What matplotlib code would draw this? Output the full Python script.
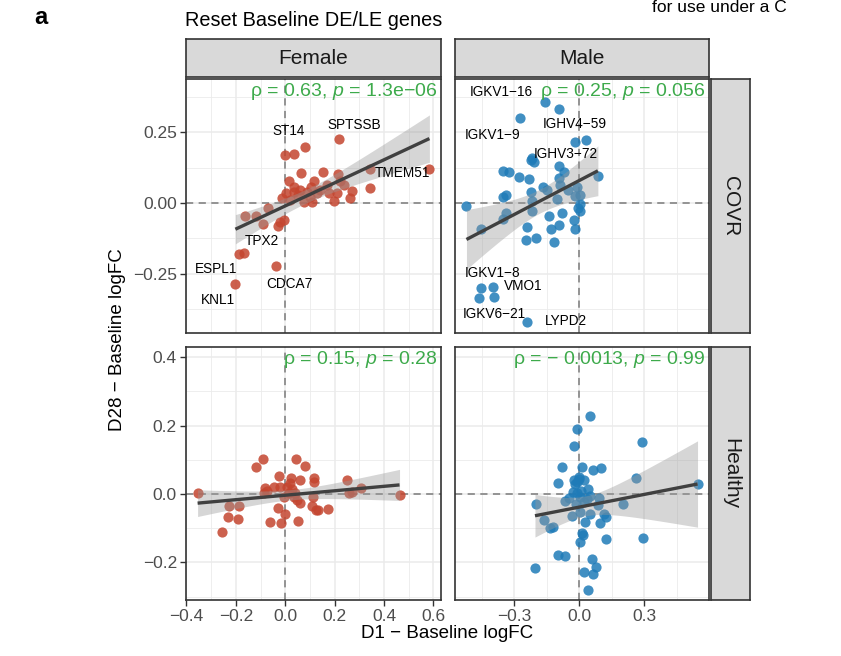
import numpy as np
import matplotlib
matplotlib.use("Agg")
import matplotlib.pyplot as plt

plt.rcParams['font.family'] = ['Liberation Sans', 'DejaVu Sans']
plt.rcParams['mathtext.fontset'] = 'custom'
plt.rcParams['mathtext.rm'] = 'Liberation Sans'
plt.rcParams['mathtext.it'] = 'Liberation Sans:italic'

# D1 - baseline (x) and D28 - baseline (y) logFC per gene
female_covr_x = [-0.202, -0.189, -0.166, -0.038, -0.165, -0.117, -0.090, -0.070, -0.030, -0.023,
                 -0.007, 0.001, 0.034, 0.081, 0.216, 0.344, 0.584, 0.017, 0.063, 0.151,
                 0.213, 0.220, 0.036, -0.013, 0.004, 0.034, 0.051, 0.075, 0.088, 0.104,
                 0.115, 0.108, 0.128, 0.169, 0.176, 0.196, 0.209, 0.239, 0.270, 0.263,
                 0.344, 0.060, 0.100, 0.140, 0.020]
female_covr_y = [-0.285, -0.178, -0.176, -0.223, -0.046, -0.046, -0.075, -0.019, -0.080, -0.066,
                 -0.060, 0.170, 0.174, 0.197, 0.226, 0.119, 0.119, 0.078, 0.106, 0.109,
                 0.102, 0.078, 0.058, 0.017, 0.034, 0.040, 0.028, 0.005, 0.040, 0.058,
                 0.078, 0.005, 0.034, 0.064, 0.034, 0.007, 0.034, 0.064, 0.043, 0.019,
                 0.052, 0.045, 0.020, 0.045, 0.010]

male_covr_x = [-0.159, -0.092, -0.274, -0.019, 0.031, -0.220, -0.210, -0.225, -0.092, -0.071,
               -0.354, -0.327, -0.278, -0.232, -0.095, -0.166, -0.148, -0.225, -0.354, -0.339,
               -0.087, -0.054, -0.010, 0.005, -0.019, 0.086, -0.105, -0.220, -0.522, 0.005,
               -0.006, 0.002, -0.220, -0.339, -0.354, -0.078, -0.141, -0.024, -0.454, -0.243,
               -0.132, -0.096, -0.019, -0.247, -0.201, -0.115, -0.454, -0.398, -0.464, -0.393,
               -0.240]
male_covr_y = [0.356, 0.332, 0.300, 0.214, 0.223, 0.158, 0.144, 0.152, 0.132, 0.108,
               0.113, 0.109, 0.093, 0.085, 0.087, 0.058, 0.046, 0.040, 0.022, 0.030,
               0.064, 0.046, 0.058, 0.030, 0.024, 0.096, 0.014, 0.007, -0.009, -0.005,
               -0.019, -0.028, -0.028, -0.035, -0.057, -0.035, -0.046, -0.060, -0.090, -0.084,
               -0.092, -0.078, -0.092, -0.129, -0.123, -0.137, -0.300, -0.296, -0.336, -0.330,
               -0.421]

female_healthy_x = [-0.355, -0.256, -0.230, -0.193, -0.226, -0.189, -0.119, -0.092, -0.081, -0.088,
                    -0.074, -0.061, -0.030, -0.016, 0.000, -0.027, -0.047, -0.020, 0.007, 0.020,
                    0.027, 0.014, -0.007, 0.034, 0.047, 0.061, 0.040, 0.023, 0.061, 0.043,
                    0.081, 0.115, 0.115, 0.111, 0.108, 0.124, 0.131, 0.175, 0.050, 0.252,
                    0.257, 0.270, 0.308, 0.463]
female_healthy_y = [0.002, -0.112, -0.068, -0.073, -0.035, -0.034, 0.078, 0.102, 0.018, 0.004,
                    0.009, -0.081, -0.040, -0.086, -0.057, 0.053, 0.021, 0.021, 0.021, 0.031,
                    0.016, 0.003, -0.008, -0.008, -0.018, -0.025, 0.003, 0.048, 0.040, 0.102,
                    0.082, 0.048, 0.034, -0.008, -0.034, -0.047, -0.047, -0.043, -0.078, 0.040,
                    0.002, 0.006, 0.018, -0.003]

male_healthy_x = [0.051, -0.010, -0.024, 0.292, -0.080, 0.014, 0.065, 0.102, -0.100, -0.023,
                  -0.003, 0.020, -0.019, 0.038, 0.264, 0.547, -0.198, -0.068, -0.049, -0.010,
                  0.005, -0.014, 0.020, 0.035, 0.091, 0.088, 0.203, -0.164, -0.136, -0.120,
                  -0.034, 0.005, 0.027, 0.051, 0.094, 0.112, 0.124, 0.012, 0.017, 0.005,
                  0.124, 0.295, -0.100, -0.064, 0.058, 0.078, -0.205, 0.020, 0.062, 0.042,
                  0.000, -0.010, 0.010, -0.030, 0.050]
male_healthy_y = [0.229, 0.190, 0.139, 0.153, 0.078, 0.080, 0.070, 0.075, 0.031, 0.041,
                  0.045, 0.041, 0.029, 0.015, 0.048, 0.029, -0.029, -0.019, -0.013, 0.002,
                  -0.008, -0.028, -0.023, -0.016, -0.011, -0.032, -0.029, -0.076, -0.099, -0.096,
                  -0.064, -0.052, -0.081, -0.057, -0.084, -0.059, -0.066, -0.115, -0.120, -0.141,
                  -0.132, -0.128, -0.179, -0.182, -0.190, -0.213, -0.215, -0.229, -0.235, -0.281,
                  0.050, 0.035, 0.010, 0.005, -0.005]

# labelled genes (COVR row)
female_genes = ["ST14", "SPTSSB", "TMEM51", "TPX2", "ESPL1", "CDCA7", "KNL1"]
female_gene_x = [0.014, 0.279, 0.474, -0.093, -0.281, 0.018, -0.272]
female_gene_y = [0.253, 0.276, 0.107, -0.134, -0.233, -0.287, -0.340]
male_genes = ["IGKV1\u221216", "IGHV4\u221259", "IGKV1\u22129", "IGHV3\u221272",
              "IGKV1\u22128", "VMO1", "IGKV6\u221221", "LYPD2"]
male_gene_x = [-0.362, -0.023, -0.400, -0.064, -0.400, -0.258, -0.393, -0.060]
male_gene_y = [0.392, 0.277, 0.239, 0.173, -0.248, -0.291, -0.392, -0.416]

cor_labels = [["ρ = 0.63, $p$ = 1.3e\u221206", "ρ = 0.25, $p$ = 0.056"],
              ["ρ = 0.15, $p$ = 0.28", "ρ = \u2212 0.0013, $p$ = 0.99"]]

sex_labels = ["Female", "Male"]
group_labels = ["COVR", "Healthy"]
sex_colors = ["#C4452F", "#1F7BB8"]

x_ticks = [[-0.4, -0.2, 0.0, 0.2, 0.4, 0.6], [-0.3, 0.0, 0.3]]
x_ticklabels = [["\u22120.4", "\u22120.2", "0.0", "0.2", "0.4", "0.6"], ["\u22120.3", "0.0", "0.3"]]
x_minor = [[-0.3, -0.1, 0.1, 0.3, 0.5], [-0.45, -0.15, 0.15, 0.45]]
y_ticks = [[-0.25, 0.0, 0.25], [-0.2, 0.0, 0.2, 0.4]]
y_ticklabels = [["\u22120.25", "0.00", "0.25"], ["\u22120.2", "0.0", "0.2", "0.4"]]
y_minor = [[-0.375, -0.125, 0.125, 0.375], [-0.3, -0.1, 0.1, 0.3]]
x_lims = [(-0.402, 0.631), (-0.575, 0.600)]
y_lims = [(-0.458, 0.437), (-0.310, 0.430)]

data = [[(female_covr_x, female_covr_y), (male_covr_x, male_covr_y)],
        [(female_healthy_x, female_healthy_y), (male_healthy_x, male_healthy_y)]]

W, H = 841, 656
fig = plt.figure(figsize=(W / 100, H / 100), dpi=100)


def box(x0, y0, x1, y1):
    return [x0 / W, 1 - y1 / H, (x1 - x0) / W, (y1 - y0) / H]


col_px = [(186, 441), (455, 709)]
row_px = [(79, 333), (347, 600)]
border = "#333333"


def lm_band(x, y, grid):
    x = np.asarray(x)
    y = np.asarray(y)
    n = len(x)
    b, a = np.polyfit(x, y, 1)
    resid = y - (a + b * x)
    s = np.sqrt(np.sum(resid ** 2) / (n - 2))
    se = s * np.sqrt(1 / n + (grid - x.mean()) ** 2 / np.sum((x - x.mean()) ** 2))
    fit = a + b * grid
    return fit, fit - 2.01 * se, fit + 2.01 * se


for r in range(2):
    for c in range(2):
        ax = fig.add_axes(box(col_px[c][0], row_px[r][0], col_px[c][1], row_px[r][1]))
        x, y = data[r][c]
        ax.set_xlim(*x_lims[c])
        ax.set_ylim(*y_lims[r])
        ax.set_xticks(x_ticks[c])
        ax.set_xticks(x_minor[c], minor=True)
        ax.set_yticks(y_ticks[r])
        ax.set_yticks(y_minor[r], minor=True)
        ax.grid(True, which="major", color="#EBEBEB", lw=1.1)
        ax.grid(True, which="minor", color="#EBEBEB", lw=0.6)
        ax.set_axisbelow(True)
        ax.tick_params(which="minor", length=0)
        ax.tick_params(which="major", length=4, width=1.0, color=border,
                       labelsize=12.5, labelcolor="#4D4D4D", pad=2.5)
        if r == 1:
            ax.set_xticklabels(x_ticklabels[c])
        else:
            ax.tick_params(axis="x", which="major", length=0, labelbottom=False)
        if c == 0:
            ax.set_yticklabels(y_ticklabels[r])
        else:
            ax.tick_params(axis="y", which="major", length=0, labelleft=False)
        for sp in ax.spines.values():
            sp.set_color(border)
            sp.set_linewidth(1.2)

        ax.axvline(0, color="#8C8C8C", lw=1.3, ls=(0, (4, 3)), zorder=1)
        ax.axhline(0, color="#8C8C8C", lw=1.3, ls=(0, (4, 3)), zorder=1)

        ax.scatter(x, y, s=54, color=sex_colors[c], alpha=0.85, lw=0, zorder=3)

        grid = np.linspace(min(x), max(x), 80)
        fit, lo, hi = lm_band(x, y, grid)
        ax.fill_between(grid, lo, hi, color="#999999", alpha=0.4, lw=0, zorder=4)
        ax.plot(grid, fit, color="#404040", lw=2.4, zorder=5, solid_capstyle="butt")

        ax.text(0.985, 0.952, cor_labels[r][c], transform=ax.transAxes, ha="right",
                va="center", fontsize=14, color="#3DAA4B", zorder=6)

        if r == 0:
            genes = (female_genes, female_gene_x, female_gene_y) if c == 0 else \
                (male_genes, male_gene_x, male_gene_y)
            for g, gx, gy in zip(*genes):
                ax.text(gx, gy, g, ha="center", va="center", fontsize=9.8,
                        color="black", zorder=6)

# facet strips
for c in range(2):
    sax = fig.add_axes(box(col_px[c][0], 39, col_px[c][1], 77))
    sax.set_facecolor("#D9D9D9")
    sax.set_xticks([])
    sax.set_yticks([])
    for sp in sax.spines.values():
        sp.set_color(border)
        sp.set_linewidth(1.2)
    sax.text(0.5, 0.5, sex_labels[c], ha="center", va="center", fontsize=15,
             color="#1A1A1A", transform=sax.transAxes)
for r in range(2):
    sax = fig.add_axes(box(711, row_px[r][0], 750, row_px[r][1]))
    sax.set_facecolor("#D9D9D9")
    sax.set_xticks([])
    sax.set_yticks([])
    for sp in sax.spines.values():
        sp.set_color(border)
        sp.set_linewidth(1.2)
    sax.text(0.5, 0.5, group_labels[r], ha="center", va="center", fontsize=15,
             rotation=-90, color="#1A1A1A", transform=sax.transAxes)

fig.text(447 / W, 1 - 634 / H, "D1 \u2212 Baseline logFC", ha="center", va="center", fontsize=13.5)
fig.text(117 / W, 1 - 340 / H, "D28 \u2212 Baseline logFC", ha="center", va="center",
         rotation=90, fontsize=13.5)
fig.text(185 / W, 1 - 20 / H, "Reset Baseline DE/LE genes", ha="left", va="center", fontsize=14.3)
fig.text(34 / W, 1 - 18 / H, "a", ha="left", va="center", fontsize=17, fontweight="bold")
fig.text(652 / W, 1 - 8 / H, "for use under a C", ha="left", va="center", fontsize=12.5)

fig.savefig("out.png", dpi=100)
